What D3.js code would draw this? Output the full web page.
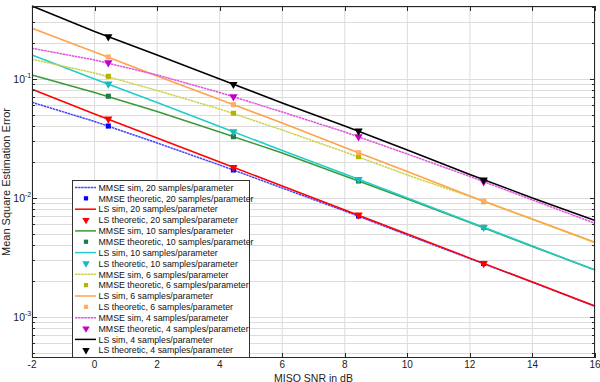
<!DOCTYPE html>
<html>
<head>
<meta charset="utf-8">
<script src="https://cdn.jsdelivr.net/npm/d3@7"></script>
<style>
  html, body { margin: 0; padding: 0; background: #fff; }
  svg { display: block; }
  text { font-family: "Liberation Sans", Arial, sans-serif; }
</style>
</head>
<body>
<svg id="chart" width="600" height="382"></svg>
<script>
// ---------- data ----------
const xSim = [-2, 0, 2, 4, 6, 8, 10, 12, 14, 16];
const xTheo = [0.44, 4.44, 8.44, 12.44];

const mmseSim20 = [0.0633, 0.0437, 0.02883, 0.01883, 0.01206, 0.00773, 0.00486, 0.00308, 0.00195, 0.00122];
const mmseTheo20 = [0.0400, 0.0171, 0.00702, 0.00280];
const lsSim20 = [0.0815, 0.0505, 0.03175, 0.01995, 0.01254, 0.00788, 0.00495, 0.00311, 0.001957, 0.00123];
const lsTheo20 = [0.0459, 0.0180, 0.00716, 0.00281];

const mmseSim10 = [0.1074, 0.0766, 0.0530, 0.03565, 0.02375, 0.01522, 0.00975, 0.00619, 0.00389, 0.00247];
const mmseTheo10 = [0.0712, 0.03256, 0.01381, 0.00564];
const lsSim10 = [0.1581, 0.0994, 0.0631, 0.03965, 0.02492, 0.01582, 0.00994, 0.00625, 0.00393, 0.00247];
const lsTheo10 = [0.0903, 0.03586, 0.01428, 0.00564];

const mmseSim6 = [0.1455, 0.1117, 0.0796, 0.0556, 0.03705, 0.02421, 0.01552, 0.01023, 0.00656, 0.00418];
const mmseTheo6 = [0.1047, 0.0512, 0.02211, 0.00925];
const lsSim6 = [0.2652, 0.1677, 0.1054, 0.0669, 0.04242, 0.02641, 0.01661, 0.01033, 0.00662, 0.00422];
const lsTheo6 = [0.1522, 0.0605, 0.02389, 0.00938];

const mmseSim4 = [0.1801, 0.1436, 0.1074, 0.0766, 0.0525, 0.03565, 0.02329, 0.01508, 0.00957, 0.00609];
const mmseTheo4 = [0.1363, 0.0706, 0.03256, 0.01363];
const lsSim4 = [0.408, 0.2492, 0.158, 0.0994, 0.0625, 0.0400, 0.02517, 0.01567, 0.00994, 0.00643];
const lsTheo4 = [0.2255, 0.0897, 0.03634, 0.01408];

const legendLabels = [
  "MMSE sim, 20 samples/parameter",
  "MMSE theoretic, 20 samples/parameter",
  "LS sim, 20 samples/parameter",
  "LS theoretic, 20 samples/parameter",
  "MMSE sim, 10 samples/parameter",
  "MMSE theoretic, 10 samples/parameter",
  "LS sim, 10 samples/parameter",
  "LS theoretic, 10 samples/parameter",
  "MMSE sim, 6 samples/parameter",
  "MMSE theoretic, 6 samples/parameter",
  "LS sim, 6 samples/parameter",
  "LS theoretic, 6 samples/parameter",
  "MMSE sim, 4 samples/parameter",
  "MMSE theoretic, 4 samples/parameter",
  "LS sim, 4 samples/parameter",
  "LS theoretic, 4 samples/parameter"
];
const xTickValues = [-2, 0, 2, 4, 6, 8, 10, 12, 14, 16];
const yMajorExps = [-1, -2, -3];
const xLabel = "MISO SNR in dB";
const yLabel = "Mean Square Estimation Error";

// ---------- series definitions (style separate from data) ----------
const series = [
  {type: "line", y: mmseSim20, color: "#4646ff", dash: "2.5,0.6"},
  {type: "marker", y: mmseTheo20, color: "#0000ff", shape: "square"},
  {type: "line", y: lsSim20, color: "#ff0000", dash: null},
  {type: "marker", y: lsTheo20, color: "#ff0000", shape: "tri"},
  {type: "line", y: mmseSim10, color: "#3a9a3a", dash: null},
  {type: "marker", y: mmseTheo10, color: "#237a45", shape: "square"},
  {type: "line", y: lsSim10, color: "#22cccc", dash: null},
  {type: "marker", y: lsTheo10, color: "#12bcbc", shape: "tri"},
  {type: "line", y: mmseSim6, color: "#cbd34a", dash: "2.5,0.6"},
  {type: "marker", y: mmseTheo6, color: "#b5b500", shape: "square"},
  {type: "line", y: lsSim6, color: "#ffa347", dash: null},
  {type: "marker", y: lsTheo6, color: "#ffad66", shape: "square"},
  {type: "line", y: mmseSim4, color: "#e055e0", dash: "2.5,0.6"},
  {type: "marker", y: mmseTheo4, color: "#c400c4", shape: "tri"},
  {type: "line", y: lsSim4, color: "#000000", dash: null},
  {type: "marker", y: lsTheo4, color: "#000000", shape: "tri"}
];

// ---------- layout ----------
const svg = d3.select("#chart");
const L = 32, R = 595, T = 6, B = 358;
const x = d3.scaleLinear().domain([-2, 16]).range([L, R]);
const y = d3.scaleLog().domain([0.000450, 0.408]).range([B, T]);

// grid
const gridColor = "#dcdcdc";
const g = svg.append("g");
xTickValues.forEach(v => {
  g.append("line").attr("x1", x(v)).attr("x2", x(v)).attr("y1", T).attr("y2", B)
    .attr("stroke", gridColor).attr("stroke-width", 1);
});
const yGrid = [];
for (let e = -4; e <= -1; e++) {
  for (let m = 1; m <= 9; m++) {
    const v = m * Math.pow(10, e);
    if (v >= y.domain()[0] && v <= y.domain()[1]) yGrid.push({v, major: m === 1});
  }
}
yGrid.forEach(d => {
  const yy = Math.round(y(d.v)) + 0.5;
  g.append("line").attr("x1", L).attr("x2", R).attr("y1", yy).attr("y2", yy)
    .attr("stroke", gridColor).attr("stroke-width", 1);
});

// plot series
const tri = d3.symbol().type(d3.symbolTriangle).size(30);
const sq = d3.symbol().type(d3.symbolSquare).size(26);
const line = d3.line().x((d, i) => x(xSim[i])).y(d => y(d));
const plot = svg.append("g");
series.forEach(s => {
  if (s.type === "line") {
    plot.append("path").datum(s.y).attr("d", line)
      .attr("fill", "none").attr("stroke", s.color).attr("stroke-width", 1.5)
      .attr("stroke-dasharray", s.dash);
  } else {
    plot.selectAll(null).data(s.y).enter().append("path")
      .attr("d", s.shape === "tri" ? tri : sq)
      .attr("transform", (d, i) => `translate(${x(xTheo[i])},${y(d)})` + (s.shape === "tri" ? " rotate(180)" : ""))
      .attr("fill", s.color);
  }
});

// axes box and ticks (inward)
const axColor = "#262626";
svg.append("rect").attr("x", L + 0.5).attr("y", T + 0.5).attr("width", R - L - 1).attr("height", B - T - 1)
  .attr("fill", "none").attr("stroke", axColor).attr("stroke-width", 1);
xTickValues.forEach(v => {
  const xx = Math.round(x(v)) + 0.5;
  svg.append("line").attr("x1", xx).attr("x2", xx).attr("y1", B).attr("y2", B - 5).attr("stroke", axColor);
  svg.append("line").attr("x1", xx).attr("x2", xx).attr("y1", T).attr("y2", T + 5).attr("stroke", axColor);
  svg.append("text").attr("x", x(v)).attr("y", 368).attr("text-anchor", "middle")
    .attr("font-size", 10).attr("fill", "#222").text(v);
});
yGrid.forEach(d => {
  const yy = Math.round(y(d.v)) + 0.5;
  const len = d.major ? 5 : 3;
  svg.append("line").attr("x1", L).attr("x2", L + len).attr("y1", yy).attr("y2", yy).attr("stroke", axColor);
  svg.append("line").attr("x1", R).attr("x2", R - len).attr("y1", yy).attr("y2", yy).attr("stroke", axColor);
});
yMajorExps.forEach(e => {
  const yy = y(Math.pow(10, e));
  svg.append("text").attr("x", 25).attr("y", yy + 4).attr("text-anchor", "end")
    .attr("font-size", 10.5).attr("fill", "#222").text("10");
  svg.append("text").attr("x", 25).attr("y", yy - 1).attr("text-anchor", "start")
    .attr("font-size", 7).attr("fill", "#222").text("-" + Math.abs(e));
});

// axis labels
svg.append("text").attr("x", (L + R) / 2).attr("y", 381.5).attr("text-anchor", "middle")
  .attr("font-size", 10.5).attr("fill", "#222").text(xLabel);
svg.append("text").attr("transform", `translate(10,${(T + B) / 2}) rotate(-90)`)
  .attr("text-anchor", "middle").attr("font-size", 11).attr("fill", "#222").text(yLabel);

// legend
const lg = svg.append("g");
const lgX = 72, lgY = 180, lgW = 177, lgH = 177, rowH = 10.85, row0 = 187.5;
lg.append("rect").attr("x", lgX + 0.5).attr("y", lgY + 0.5).attr("width", lgW).attr("height", lgH)
  .attr("fill", "#fff").attr("stroke", "#333").attr("stroke-width", 1);
series.forEach((s, i) => {
  const yy = row0 + i * rowH;
  if (s.type === "line") {
    lg.append("line").attr("x1", 75).attr("x2", 96).attr("y1", yy).attr("y2", yy)
      .attr("stroke", s.color).attr("stroke-width", 1.5).attr("stroke-dasharray", s.dash);
  } else {
    lg.append("path").attr("d", s.shape === "tri" ? d3.symbol().type(d3.symbolTriangle).size(24) : d3.symbol().type(d3.symbolSquare).size(18))
      .attr("transform", `translate(86,${yy})` + (s.shape === "tri" ? " rotate(180)" : ""))
      .attr("fill", s.color);
  }
  lg.append("text").attr("x", 98.5).attr("y", yy + 3.2).attr("font-size", 8.8).attr("fill", "#111")
    .text(legendLabels[i]);
});
</script>
</body>
</html>
